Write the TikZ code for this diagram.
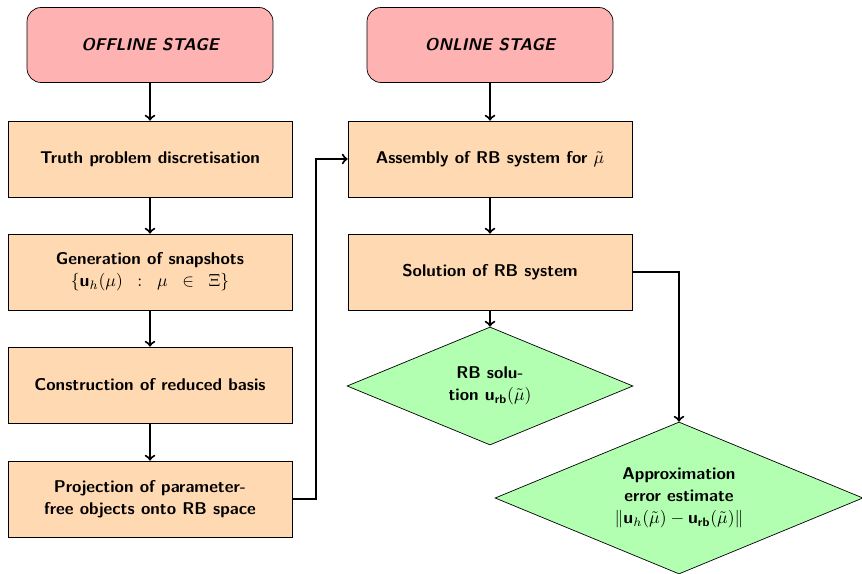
\documentclass[tikz,border=0pt]{standalone}
\usetikzlibrary{shapes.geometric}
\DeclareMathAlphabet{\mathbsf}{OT1}{cmss}{bx}{n}
\begin{document}
\begin{tikzpicture}[x=0.02cm,y=-0.02cm,
    every node/.style={font=\sffamily\bfseries\fontsize{9.7}{12.5}\selectfont},
    stage/.style={draw,rounded corners=8pt,fill=red!30,minimum width=4.92cm,
      minimum height=1.5cm,font=\sffamily\bfseries\itshape\fontsize{9.7}{12.5}\selectfont},
    task/.style={draw,fill=orange!30,minimum width=5.68cm,minimum height=1.52cm,
      align=center},
    result/.style={draw,diamond,fill=green!30,inner sep=0pt,align=center,shape aspect=2.4}]
      \useasboundingbox (0,0) rectangle (862,574);
      \draw
        (150,45) node[stage] (offline){OFFLINE STAGE}
        (150,159) node[task] (truth){Truth problem discretisation}
        (150,272) node[task] (snapshots){Generation of snapshots\\
          $\{\mathbsf{u}_h(\mu)\;\;:\;\;\mu\;\;\in\;\;\Xi\}$}
        (150,385) node[task] (basis){Construction of reduced basis}
        (150,499) node[task] (projection){Projection of parameter-\\free objects onto RB space}
        (490,45) node[stage] (online){ONLINE STAGE}
        (490,159) node[task] (assembly){Assembly of RB system for $\tilde{\mu}$}
        (490,272) node[task] (solution){Solution of RB system}
        (490,386) node[result,minimum width=5.72cm,minimum height=2.36cm] (rbsol){RB solu-\\
          tion $\mathbsf{u}_{\mathbsf{rb}}(\tilde{\mu})$}
        (679,498) node[result,minimum width=7.36cm,minimum height=3.04cm] (error){Approximation\\
          error estimate\\ $\|\mathbsf{u}_h(\tilde{\mu})-\mathbsf{u}_{\mathbsf{rb}}(\tilde{\mu})\|$};
      \begin{scope}[->,very thick]
        \draw (offline) to (truth);
        \draw (truth) to (snapshots);
        \draw (snapshots) to (basis);
        \draw (basis) to (projection);
        \draw (projection.east) -- ++(24,0) |- (assembly.west);
        \draw (online) to (assembly);
        \draw (assembly) to (solution);
        \draw (solution) to (rbsol);
        \draw (solution.east) -| (error.north);
      \end{scope}
    \end{tikzpicture}
\end{document}
